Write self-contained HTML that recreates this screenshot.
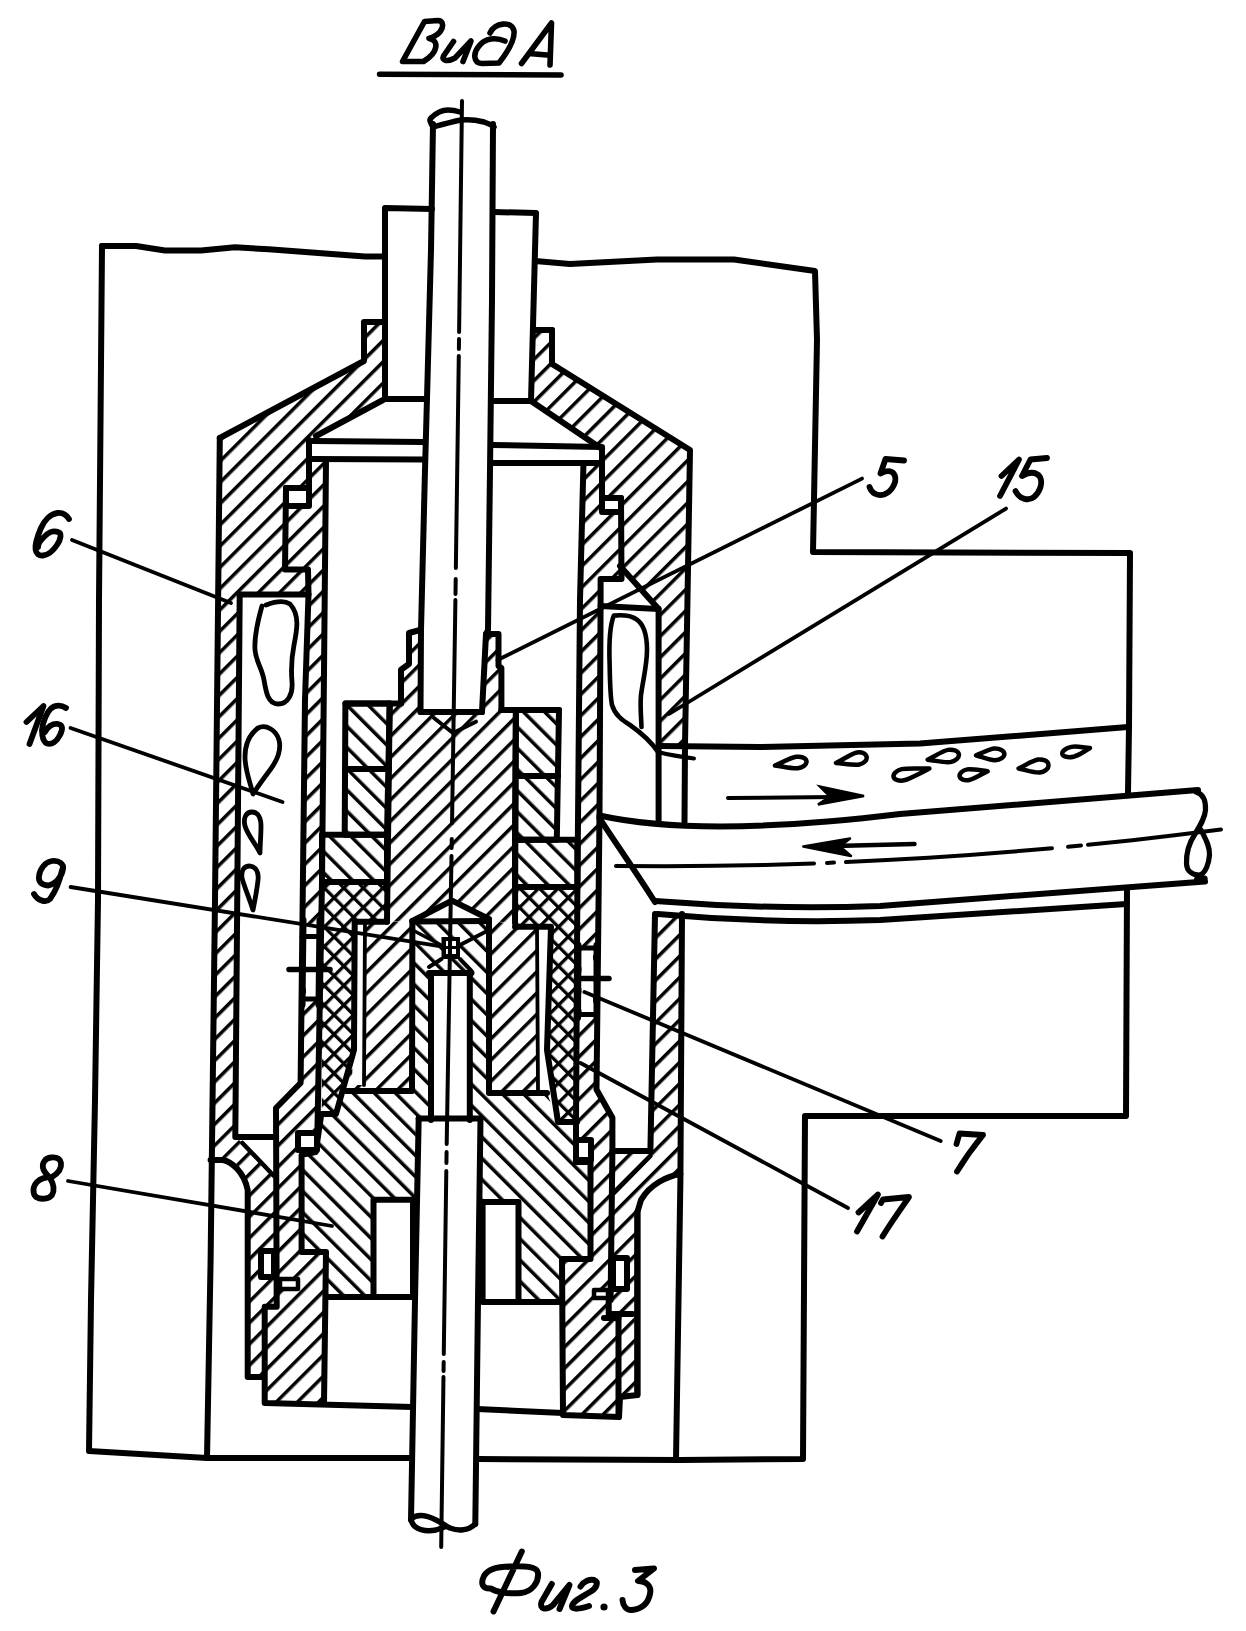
<!DOCTYPE html><html><head><meta charset="utf-8"><style>html,body{margin:0;padding:0;background:#fff;overflow:hidden;font-family:"Liberation Sans",sans-serif}svg{display:block}</style></head><body><svg width="1246" height="1631" viewBox="0 0 1246 1631" stroke-linejoin="round" stroke-linecap="round"><defs>
<pattern id="f" patternUnits="userSpaceOnUse" width="15" height="15" patternTransform="rotate(45)"><rect x="0" y="0" width="3.5" height="15" fill="#000"/></pattern>
<pattern id="b" patternUnits="userSpaceOnUse" width="15" height="15" patternTransform="rotate(-45)"><rect x="0" y="0" width="3.5" height="15" fill="#000"/></pattern>
<pattern id="x1" patternUnits="userSpaceOnUse" width="13.8" height="13.8" patternTransform="rotate(45)"><rect x="0" y="0" width="3.3" height="13.8" fill="#000"/></pattern>
<pattern id="x2" patternUnits="userSpaceOnUse" width="13.8" height="13.8" patternTransform="rotate(-45)"><rect x="0" y="0" width="3.3" height="13.8" fill="#000"/></pattern>
</defs>
<rect x="0" y="0" width="1246" height="1631" fill="#fff"/>
<polygon points="364,322 383,322 383,400 316,436 309,440 309,488 286,488 285,569.5 308,569.5 308.5,594.5 239.7,594.5 235.3,1137 210.6,1137 215,900 219.8,438 364,361" fill="#fff"/>
<polygon points="364,322 383,322 383,400 316,436 309,440 309,488 286,488 285,569.5 308,569.5 308.5,594.5 239.7,594.5 235.3,1137 210.6,1137 215,900 219.8,438 364,361" fill="url(#f)"/>
<polygon points="552,330 533,330 531,401 602,449 602,498 621,498 621.5,579 620,566 658.6,609 658.6,745 685,745 690,450 552,364" fill="#fff"/>
<polygon points="552,330 533,330 531,401 602,449 602,498 621,498 621.5,579 620,566 658.6,609 658.6,745 685,745 690,450 552,364" fill="url(#f)"/>
<polygon points="309,459 326,461 322,882 317.4,1133 301.6,1154.7 301.6,1252 326,1252 324,1403 264.7,1403 262,1377 247.7,1377 247.7,1187 238.8,1167 223,1160 210.6,1160 210.6,1137 235.3,1137 274,1137 276,1108 300.6,1083 305,700 308.5,594.5 308,569.5 285,569.5 286,506 309,506" fill="#fff"/>
<polygon points="309,459 326,461 322,882 317.4,1133 301.6,1154.7 301.6,1252 326,1252 324,1403 264.7,1403 262,1377 247.7,1377 247.7,1187 238.8,1167 223,1160 210.6,1160 210.6,1137 235.3,1137 274,1137 276,1108 300.6,1083 305,700 308.5,594.5 308,569.5 285,569.5 286,506 309,506" fill="url(#f)"/>
<polygon points="238,1139 274,1139 274,1176" fill="#fff"/>
<polygon points="242,594.5 306,594.5 301,1083 276,1108 274,1137 236,1137" fill="#fff"/>
<polygon points="583.4,466 602,463 602,498 621,498 621.5,579 600.6,579 599.5,815 596.5,1089.5 612.4,1117.7 612.4,1151 650.4,1151 655,914 682,914 680.4,1174 660,1178 645,1190 637.4,1212 637.4,1395 620,1397 619,1417 563,1415 562,1259 590.5,1259 590.5,1162 576,1162 576,1125 577.4,887 580,600" fill="#fff"/>
<polygon points="583.4,466 602,463 602,498 621,498 621.5,579 600.6,579 599.5,815 596.5,1089.5 612.4,1117.7 612.4,1151 650.4,1151 655,914 682,914 680.4,1174 660,1178 645,1190 637.4,1212 637.4,1395 620,1397 619,1417 563,1415 562,1259 590.5,1259 590.5,1162 576,1162 576,1125 577.4,887 580,600" fill="url(#f)"/>
<polygon points="600.6,606 658.6,609 658.6,745 655,914 650.4,1151 612.4,1151 612.4,1117.7 596.5,1089.5 599.5,815" fill="#fff"/>
<polygon points="620,566 658.6,609 600.6,609 600.6,579 621.5,579" fill="#fff"/>
<polygon points="412.4,921 489,921 489,1093 547,1093 558,1122 576,1122 576,1162 590.5,1162 590.5,1259 562,1259 562,1302 481.3,1302 481.3,1120 415.8,1120 415.8,1297 326,1297 326,1252 301.6,1252 301.6,1154.7 315.7,1152 321,1116 336,1114 345,1091 412,1091" fill="#fff"/>
<polygon points="412.4,921 489,921 489,1093 547,1093 558,1122 576,1122 576,1162 590.5,1162 590.5,1259 562,1259 562,1302 481.3,1302 481.3,1120 415.8,1120 415.8,1297 326,1297 326,1252 301.6,1252 301.6,1154.7 315.7,1152 321,1116 336,1114 345,1091 412,1091" fill="url(#b)"/>
<polygon points="431,973 469.8,973 469.8,1120 431,1120" fill="#fff"/>
<polygon points="389.7,703.4 401,703.4 401,669.7 409,664 409,633 420,630 420.5,712 482,712 486,634 498.5,634 498.5,666 501.4,668 501.4,710 515.9,710 515,923 489,921 452,900.6 412.4,921 387,921.8" fill="#fff"/>
<polygon points="389.7,703.4 401,703.4 401,669.7 409,664 409,633 420,630 420.5,712 482,712 486,634 498.5,634 498.5,666 501.4,668 501.4,710 515.9,710 515,923 489,921 452,900.6 412.4,921 387,921.8" fill="url(#f)"/>
<polygon points="345.4,703.4 389.7,703.4 387,834.7 344.7,834.7" fill="#fff"/>
<polygon points="345.4,703.4 389.7,703.4 387,834.7 344.7,834.7" fill="url(#b)"/>
<polygon points="515.9,710 559,710 556.8,839.7 515,839.7" fill="#fff"/>
<polygon points="515.9,710 559,710 556.8,839.7 515,839.7" fill="url(#b)"/>
<polygon points="322,834.7 387,834.7 387,882 322,882" fill="#fff"/>
<polygon points="322,834.7 387,834.7 387,882 322,882" fill="url(#b)"/>
<polygon points="515,839.7 577.4,839.7 577.4,887 515,887" fill="#fff"/>
<polygon points="515,839.7 577.4,839.7 577.4,887 515,887" fill="url(#b)"/>
<polygon points="322,882 387,882 387,921.8 354.7,921.8 354,1050 336,1114 321.8,1114" fill="#fff"/>
<polygon points="322,882 387,882 387,921.8 354.7,921.8 354,1050 336,1114 321.8,1114" fill="url(#x1)"/>
<polygon points="322,882 387,882 387,921.8 354.7,921.8 354,1050 336,1114 321.8,1114" fill="url(#x2)"/>
<polygon points="515,887 577.4,887 577.4,926.7 577,1122 558,1122 547,1050 551,926.7 515,926.7" fill="#fff"/>
<polygon points="515,887 577.4,887 577.4,926.7 577,1122 558,1122 547,1050 551,926.7 515,926.7" fill="url(#x1)"/>
<polygon points="515,887 577.4,887 577.4,926.7 577,1122 558,1122 547,1050 551,926.7 515,926.7" fill="url(#x2)"/>
<polygon points="354.7,921.8 412.4,921.5 412,1091 345,1091 354,1050" fill="#fff"/>
<polygon points="354.7,921.8 412.4,921.5 412,1091 345,1091 354,1050" fill="url(#f)"/>
<polygon points="356,922 365,922 364,1085 352,1085" fill="#fff"/>
<polygon points="489,921 541,926.7 538,1093 489,1093" fill="#fff"/>
<polygon points="489,921 541,926.7 538,1093 489,1093" fill="url(#f)"/>
<polygon points="537,927 546,927 546,1088 537,1088" fill="#fff"/>
<polygon points="373.5,1199.7 413,1199.7 413,1297 373.5,1297" fill="#fff"/>
<polygon points="482.6,1202 518.5,1202 518.5,1302 482.6,1302" fill="#fff"/>
<polyline points="102,246 136,246 165,250.5 201,250.5 235,247.3 268.7,249.3 365,256.5 385,256.5" fill="none" stroke="#000" stroke-width="6" />
<polyline points="535,261 570,264 657,259.5 734,259.5 815,271 817,340 813,552 1130,553 1129,727 1128,793" fill="none" stroke="#000" stroke-width="6" />
<polyline points="1127,888 1126,1116 805,1116 803,1459 680,1460 477,1459" fill="none" stroke="#000" stroke-width="6" />
<polyline points="409,1458 207,1458 89,1451 91,1300 95,1100 98,900 99,600 102,246" fill="none" stroke="#000" stroke-width="6" />
<polyline points="433,124 431,250 427.5,380 425,470 421,630 420.5,712" fill="none" stroke="#000" stroke-width="6" />
<polyline points="493,124 492,300 490,470 488,630 486,634 482,712" fill="none" stroke="#000" stroke-width="6" />
<path d="M433,127 C430,122 429,120 431,118 C436,113 442,110 448,110 C453,110 457,111 460,112" fill="none" stroke="#000" stroke-width="5.5" />
<path d="M433,127 C440,125 448,123 456,121 C464,119 476,120 484,122 C489,124 492,125 494,127" fill="none" stroke="#000" stroke-width="5.5" />
<polyline points="426,399 385,399 385,208 432,209" fill="none" stroke="#000" stroke-width="6" />
<polyline points="494,212 536,213 531,401 492,401" fill="none" stroke="#000" stroke-width="6" />
<polyline points="219.8,438 364,361 364,322 383,322" fill="none" stroke="#000" stroke-width="6" />
<polyline points="383,400 316,436" fill="none" stroke="#000" stroke-width="6" />
<polyline points="219.8,438 215,900 210.6,1260 207,1458" fill="none" stroke="#000" stroke-width="6" />
<polyline points="239.7,594.5 235.3,1137 274,1137" fill="none" stroke="#000" stroke-width="6" />
<polyline points="239.7,594.5 308.5,594.5" fill="none" stroke="#000" stroke-width="6" />
<polyline points="309,440 309,488 286,488 285,569.5 308,569.5 308.5,594.5 305,700 300.6,1083 276,1108 276.7,1306.7 264.7,1306.7 264.7,1403 412.7,1407" fill="none" stroke="#000" stroke-width="6" />
<polygon points="286,488 309,488 309,506 286,506" fill="#fff" stroke="#000" stroke-width="6"/>
<polyline points="312.7,441 424,442" fill="none" stroke="#000" stroke-width="6" />
<polyline points="312.7,459 424,459.5" fill="none" stroke="#000" stroke-width="6" />
<polyline points="326,461 322,882 317.4,1133" fill="none" stroke="#000" stroke-width="6" />
<polyline points="552,330 533,330" fill="none" stroke="#000" stroke-width="6" />
<polyline points="552,330 552,364 690,450 685,745 684.5,822" fill="none" stroke="#000" stroke-width="6" />
<polyline points="659,746 760,747 920,743.5 1128,727" fill="none" stroke="#000" stroke-width="6" />
<polyline points="531,401 602,449" fill="none" stroke="#000" stroke-width="6" />
<polyline points="492,445 602,447" fill="none" stroke="#000" stroke-width="6" />
<polyline points="492,463 602,463" fill="none" stroke="#000" stroke-width="6" />
<polyline points="602,449 602,498 621,498 621.5,579 600.6,579 600.6,600 599.5,815 596.5,1089.5 612.4,1117.7 612.4,1151 650.4,1151" fill="none" stroke="#000" stroke-width="6" />
<polygon points="602,498 621,498 621,512 602,512" fill="#fff" stroke="#000" stroke-width="6"/>
<polyline points="583.4,466 580,600 577.4,887 576,1125 576,1162" fill="none" stroke="#000" stroke-width="6" />
<polyline points="620,566 658.6,609 658.6,822" fill="none" stroke="#000" stroke-width="6" />
<polyline points="600.6,606 658.6,609" fill="none" stroke="#000" stroke-width="6" />
<polyline points="655,914 650.4,1151" fill="none" stroke="#000" stroke-width="6" />
<polyline points="682,914 680.4,1180 676,1460" fill="none" stroke="#000" stroke-width="6" />
<polygon points="306,924 318,924 318,1001 306,1001" fill="#fff"/>
<polyline points="302,936.5 320,936.5" fill="none" stroke="#000" stroke-width="5" />
<polyline points="289,969.5 330,969.5" fill="none" stroke="#000" stroke-width="5.5" />
<polyline points="302,999 320,999" fill="none" stroke="#000" stroke-width="5" />
<polyline points="303.5,920 302.5,1005" fill="none" stroke="#000" stroke-width="6" />
<polyline points="319.5,920 318.5,1005" fill="none" stroke="#000" stroke-width="6" />
<polygon points="581.5,948 593,948 593,1014 581.5,1014" fill="#fff"/>
<polyline points="577,948 597,948" fill="none" stroke="#000" stroke-width="5" />
<polyline points="577,978.5 609,978.5" fill="none" stroke="#000" stroke-width="5.5" />
<polyline points="577,1014.5 597,1014.5" fill="none" stroke="#000" stroke-width="5" />
<polyline points="596.5,945 596.5,1018" fill="none" stroke="#000" stroke-width="6" />
<polyline points="578.5,945 578,1018" fill="none" stroke="#000" stroke-width="6" />
<polyline points="420,630 409,633 409,664 401,669.7 401,703.4" fill="none" stroke="#000" stroke-width="6" />
<polyline points="486,634 498.5,634 498.5,666 501.4,668 501.4,710" fill="none" stroke="#000" stroke-width="6" />
<polyline points="345.4,703.4 401,703.4" fill="none" stroke="#000" stroke-width="6" />
<polyline points="501.4,710 559,710" fill="none" stroke="#000" stroke-width="6" />
<polyline points="420.5,712 482,712" fill="none" stroke="#000" stroke-width="6" />
<polyline points="434,718 453,733 476,721.7" fill="none" stroke="#000" stroke-width="4" />
<polyline points="389.7,703.4 387,921.8" fill="none" stroke="#000" stroke-width="6" />
<polyline points="515.9,710 515,923" fill="none" stroke="#000" stroke-width="6" />
<polyline points="412.4,921 452,900.6 489,919" fill="none" stroke="#000" stroke-width="6" />
<polyline points="412.4,921.5 489,921" fill="none" stroke="#000" stroke-width="6" />
<polygon points="345.4,703.4 389.7,703.4 387,834.7 344.7,834.7" fill="none" stroke="#000" stroke-width="6"/>
<polyline points="345,769 389,769" fill="none" stroke="#000" stroke-width="6" />
<polygon points="515.9,710 559,710 556.8,839.7 515,839.7" fill="none" stroke="#000" stroke-width="6"/>
<polyline points="516,776 558,776" fill="none" stroke="#000" stroke-width="6" />
<polygon points="322,834.7 387,834.7 387,882 322,882" fill="none" stroke="#000" stroke-width="6"/>
<polygon points="515,839.7 577.4,839.7 577.4,887 515,887" fill="none" stroke="#000" stroke-width="6"/>
<polyline points="387,921.8 354.7,921.8 354,1050 336,1114 321.8,1114" fill="none" stroke="#000" stroke-width="6" />
<polyline points="515,926.7 551,926.7 547,1050 558,1122 577,1122" fill="none" stroke="#000" stroke-width="6" />
<polyline points="412.4,921 412,1091 345,1091" fill="none" stroke="#000" stroke-width="6" />
<polyline points="365,922 364,1085" fill="none" stroke="#000" stroke-width="3.8" />
<polyline points="489,921 489,1093 547,1093" fill="none" stroke="#000" stroke-width="6" />
<polyline points="537,927 538,1090" fill="none" stroke="#000" stroke-width="3.8" />
<polyline points="431,973 431,1120" fill="none" stroke="#000" stroke-width="6" />
<polyline points="469.8,973 469.8,1120" fill="none" stroke="#000" stroke-width="6" />
<polyline points="429,973 471.5,973" fill="none" stroke="#000" stroke-width="6" />
<polyline points="429,967 441.5,959" fill="none" stroke="#000" stroke-width="4" />
<polyline points="471.5,971 460,959" fill="none" stroke="#000" stroke-width="4" />
<polyline points="412.4,930 441,945" fill="none" stroke="#000" stroke-width="3.5" />
<polyline points="489,930 460,945" fill="none" stroke="#000" stroke-width="3.8" />
<rect x="441.5" y="937" width="18.5" height="22" fill="#000"/>
<rect x="446" y="941" width="4" height="5" fill="#fff"/><rect x="452" y="941" width="4" height="5" fill="#fff"/><rect x="446" y="949" width="4" height="5" fill="#fff"/><rect x="452" y="949" width="4" height="5" fill="#fff"/>
<polyline points="321,1116 315.7,1152 301.6,1154.7 301.6,1252 326,1252 324,1403" fill="none" stroke="#000" stroke-width="6" />
<polyline points="326,1297 373.5,1297" fill="none" stroke="#000" stroke-width="6" />
<polygon points="373.5,1199.7 413,1199.7 413,1297 373.5,1297" fill="none" stroke="#000" stroke-width="6"/>
<polygon points="298,1133 317,1133 317,1150 298,1150" fill="#fff" stroke="#000" stroke-width="6"/>
<polygon points="261,1251 274,1251 274,1277 261,1277" fill="#fff" stroke="#000" stroke-width="6"/>
<polyline points="576,1162 590.5,1162 590.5,1259 562,1259 563,1415 619,1417 620,1397 637.4,1395 637.4,1212" fill="none" stroke="#000" stroke-width="6" />
<polyline points="518.5,1302 562,1302" fill="none" stroke="#000" stroke-width="6" />
<polygon points="482.6,1202 518.5,1202 518.5,1302 482.6,1302" fill="none" stroke="#000" stroke-width="6"/>
<polygon points="576,1140 591,1140 591,1160 576,1160" fill="#fff" stroke="#000" stroke-width="6"/>
<polygon points="613,1258 627,1258 627,1289 613,1289" fill="#fff" stroke="#000" stroke-width="6"/>
<polygon points="594,1290 608,1290 608,1298 594,1298" fill="#fff" stroke="#000" stroke-width="4.5"/>
<polygon points="280,1279 298,1279 298,1289 280,1289" fill="#fff" stroke="#000" stroke-width="4.5"/>
<polyline points="477,1409 563,1413" fill="none" stroke="#000" stroke-width="6" />
<path d="M210.6,1160 L223,1160 C232,1162 244,1172 247.7,1190 L247.7,1377 L262,1377" fill="none" stroke="#000" stroke-width="6" />
<polyline points="242.4,1143 274,1176" fill="none" stroke="#000" stroke-width="4.5" />
<path d="M680.4,1174 C668,1176 650,1184 641,1200 L637.4,1212 L637.4,1395" fill="none" stroke="#000" stroke-width="6" />
<polyline points="650.4,1156 614,1193" fill="none" stroke="#000" stroke-width="4.5" />
<polyline points="612.4,1151 610.6,1300" fill="none" stroke="#000" stroke-width="6" />
<polyline points="418.7,1118.5 415,1300 411,1520" fill="none" stroke="#000" stroke-width="6" />
<polyline points="480.5,1118.5 478,1300 475.3,1524" fill="none" stroke="#000" stroke-width="6" />
<polyline points="418.7,1118.5 480.5,1118.5" fill="none" stroke="#000" stroke-width="6" />
<polyline points="618.5,1318 618.5,1416" fill="none" stroke="#000" stroke-width="6" />
<polyline points="604,1318 618.5,1318" fill="none" stroke="#000" stroke-width="6" />
<polyline points="608.7,1300 608.7,1314 632.5,1314" fill="none" stroke="#000" stroke-width="6" />
<path d="M411,1519 C418,1513 428,1516 436,1520 C442,1523 446,1526 450,1528 C458,1531 468,1531 475.3,1524" fill="none" stroke="#000" stroke-width="5.5" />
<path d="M411.5,1521 C414,1530 426,1532 436,1530 L446,1526.5" fill="none" stroke="#000" stroke-width="5.5" />
<polyline points="462,101 459.102,332" fill="none" stroke="#000" stroke-width="4" />
<polyline points="459.014,339 458.889,349" fill="none" stroke="#000" stroke-width="4" />
<polyline points="458.801,356 455.856,568" fill="none" stroke="#000" stroke-width="4" />
<polyline points="455.702,579 455.491,594" fill="none" stroke="#000" stroke-width="4" />
<polyline points="455.406,600 452.032,823" fill="none" stroke="#000" stroke-width="4" />
<polyline points="451.776,839 451.632,848" fill="none" stroke="#000" stroke-width="4" />
<polyline points="451.504,856 446.684,1144" fill="none" stroke="#000" stroke-width="4" />
<polyline points="446.572,1152 446.418,1163" fill="none" stroke="#000" stroke-width="4" />
<polyline points="446.306,1171 443.779,1354" fill="none" stroke="#000" stroke-width="4" />
<polyline points="443.672,1362 443.551,1371" fill="none" stroke="#000" stroke-width="4" />
<polyline points="443.471,1377 441.2,1547" fill="none" stroke="#000" stroke-width="4" />
<path d="M599.5,815.5 Q700,838 900,814 L1198,790" fill="none" stroke="#000" stroke-width="6" />
<path d="M599.5,818 C610,835 628,860 655,902" fill="none" stroke="#000" stroke-width="6" />
<path d="M655,901 Q770,910 880,906 L1205,881.5" fill="none" stroke="#000" stroke-width="6" />
<path d="M657.6,914 Q770,924 880,920 L1126.7,904" fill="none" stroke="#000" stroke-width="6" />
<path d="M1196,792 C1203,794 1206,800 1205.5,810 C1205,818 1200,826 1195,834 C1189,843 1186,852 1186.5,864 C1187,871 1192,875 1199,875 C1206,874 1209,862 1209.5,855 C1210,846 1205,838 1201,830" fill="none" stroke="#000" stroke-width="5.2" />
<polyline points="1197,879.4 1204.7,878.4" fill="none" stroke="#000" stroke-width="6" />
<polyline points="616,866 665.5,866.2 715,865.8 764.5,864.9 814,863.4" fill="none" stroke="#000" stroke-width="4" />
<polyline points="827,862.9 834,862.6" fill="none" stroke="#000" stroke-width="4" />
<polyline points="846,862.1 887.2,860.1 928.4,857.8 969.6,855 1010.8,851.8 1052,848.2" fill="none" stroke="#000" stroke-width="4" />
<polyline points="1068,846.8 1081,845.5" fill="none" stroke="#000" stroke-width="4" />
<polyline points="1088,844.8 1132.3,840.2 1176.7,835.1 1221,829.5" fill="none" stroke="#000" stroke-width="4" />
<polyline points="728,798 835,797" fill="none" stroke="#000" stroke-width="4" />
<path d="M864,796 L820,786.5 L830,796.5 L818,804.5 Z" fill="#000" stroke="#000" stroke-width="2.5" stroke-linejoin="miter"/>
<polyline points="835,846 914.5,844" fill="none" stroke="#000" stroke-width="4.5" />
<path d="M803.3,846.6 L850,838.6 L840,846.5 L851,856 Z" fill="#000" stroke="#000" stroke-width="2.5"/>
<path d="M775.0,765.5 C785.3,767.0 793.0,768.9 797.8,768.2 C803.0,767.5 806.9,764.4 806.5,761.2 C806.1,758.1 801.5,756.1 796.2,756.8 C791.5,757.4 784.5,761.3 775.0,765.5 Z" fill="none" stroke="#000" stroke-width="4.5" />
<path d="M836.0,763.0 C846.5,764.0 854.9,765.4 859.2,764.5 C864.0,763.6 867.3,760.1 866.6,756.7 C865.9,753.4 861.5,751.5 856.8,752.5 C852.5,753.3 845.3,758.0 836.0,763.0 Z" fill="none" stroke="#000" stroke-width="4.5" />
<path d="M929.4,768.6 C916.9,768.5 906.4,768.0 901.7,769.1 C896.6,770.3 892.9,773.8 893.6,776.9 C894.4,780.0 899.2,781.5 904.3,780.3 C909.0,779.2 918.2,774.2 929.4,768.6 Z" fill="none" stroke="#000" stroke-width="4.5" />
<path d="M927.7,759.7 C937.8,761.1 945.1,762.9 950.1,762.1 C955.5,761.1 959.4,757.6 958.9,754.3 C958.3,751.0 953.4,749.0 947.9,749.9 C943.0,750.8 936.8,755.0 927.7,759.7 Z" fill="none" stroke="#000" stroke-width="4.5" />
<path d="M987.7,771.2 C978.5,770.1 971.7,768.6 967.3,769.4 C962.6,770.3 959.1,773.3 959.6,776.3 C960.2,779.2 964.5,780.9 969.3,780.0 C973.6,779.2 979.4,775.4 987.7,771.2 Z" fill="none" stroke="#000" stroke-width="4.5" />
<path d="M976.0,755.3 C984.6,757.8 990.3,760.4 995.1,760.2 C1000.4,759.9 1004.5,757.1 1004.4,753.9 C1004.2,750.8 999.8,748.4 994.5,748.6 C989.7,748.9 984.3,752.0 976.0,755.3 Z" fill="none" stroke="#000" stroke-width="4.5" />
<path d="M1018.6,768.5 C1028.2,770.6 1035.0,773.1 1039.8,772.5 C1045.0,771.9 1049.0,768.4 1048.5,764.8 C1048.1,761.3 1043.4,758.9 1038.2,759.5 C1033.4,760.1 1027.4,764.1 1018.6,768.5 Z" fill="none" stroke="#000" stroke-width="4.5" />
<path d="M1090.0,748.0 C1081.6,747.3 1076.5,745.8 1071.4,746.9 C1065.8,748.1 1061.8,751.3 1062.3,754.0 C1062.9,756.7 1068.0,757.9 1073.6,756.7 C1078.6,755.6 1082.7,752.2 1090.0,748.0 Z" fill="none" stroke="#000" stroke-width="4.5" />
<path d="M262,606 C258,620 254,635 255,650 C256,662 262,668 264,680 C266,692 268,704 278,704 C288,704 293,694 292,682 C291,670 291,660 294,645 C297,630 300,615 290,604 C284,600 274,602 266,605" fill="none" stroke="#000" stroke-width="4.8" />
<path d="M253,794 C250,782 245,770 245,757 C245,744 250,734 258,728 C266,724 276,730 279,740 C282,752 276,762 270,770 C264,778 258,786 253,794 Z" fill="none" stroke="#000" stroke-width="4.8" />
<path d="M260,853 C256,844 248,836 245,826 C243,818 246,812 252,812 C258,812 261,818 261,826 C261,836 260,845 260,853 Z" fill="none" stroke="#000" stroke-width="4.8" />
<path d="M253,910 C250,900 244,886 242,878 C241,870 244,866 250,866 C256,867 259,872 258,880 C257,890 255,900 253,910 Z" fill="none" stroke="#000" stroke-width="4.8" />
<path d="M641.5,727 C641,715 640,705 641,695 C643,680 647,665 647,650 C647,635 644,624 636,619 C630,615 620,615 613.8,615.6 C610,625 609,645 609.6,663 C610,680 610,695 612,705 C615,715 622,720 630,725 C640,732 650,740 658,752" fill="none" stroke="#000" stroke-width="4.6" />
<path d="M658,752 C670,755 682,757 694,758.5" fill="none" stroke="#000" stroke-width="4" />
<path d="M69,519 C66,514 62,512.5 57.5,513 C50,514 44,521 41,528 C38,535 35,544 35.5,549 C36,554 39,556 43,555.5 C48,555 53,551 57,545 C61,539 62,533 58,532 C53,530 47,533 43,538 C40,541 38,545 38,547" fill="none" stroke="#000" stroke-width="5.8" />
<polyline points="72,540 231,603" fill="none" stroke="#000" stroke-width="3.8" />
<path d="M26.5,722 L43.5,706 L29.5,744" fill="none" stroke="#000" stroke-width="5.8" />
<path d="M66,708 C63,706 58,705 54,706.5 C48,709 45,717 43,724 C41,731 42,741 47,743.5 C52,745 57,741 60,735 C63,729 63,725 58,724 C53,723 47,727 45,732" fill="none" stroke="#000" stroke-width="5.8" />
<polyline points="70.6,728 282.5,802" fill="none" stroke="#000" stroke-width="3.8" />
<path d="M48,885.5 C42,885 38,882 39,876 C40,869 45,862 52,861 C59,860 64,864 63,869 C62,876 56,884 48,885.5 M62,870 C60,880 55,892 50,899 C46,903 38,901 34,894" fill="none" stroke="#000" stroke-width="5.8" />
<polyline points="70.6,887 442.7,946.7" fill="none" stroke="#000" stroke-width="3.8" />
<path d="M52,1177 C57,1174 62,1170 61,1163 C60,1158 56,1157 51,1157.5 C45,1158 42,1163 43,1168 C44,1173 48,1175 50,1178 C53,1183 55,1190 52,1195 C49,1199 41,1200 36,1197 C32,1193 33,1186 37,1182 C41,1178 46,1177 52,1177" fill="none" stroke="#000" stroke-width="5.8" />
<polyline points="68,1181 332,1226" fill="none" stroke="#000" stroke-width="3.8" />
<path d="M904,460.5 L885.5,459 L880.5,473.5 C886,470 893,470 895,476 C897,483 891,492 884,494.5 C878,496 872,494 869.5,487" fill="none" stroke="#000" stroke-width="5.8" />
<polyline points="862,478.6 497.6,660" fill="none" stroke="#000" stroke-width="3.8" />
<path d="M1001.5,476 L1019,459.5 L1000,496" fill="none" stroke="#000" stroke-width="5.8" />
<path d="M1047,458 L1030.5,459.5 L1022,476 C1028,472 1036,471 1040,477 C1043,483 1040,492 1034,497 C1029,501 1020,500 1015.5,491" fill="none" stroke="#000" stroke-width="5.8" />
<polyline points="1006,508.6 669,714" fill="none" stroke="#000" stroke-width="3.8" />
<path d="M956.5,1144 L959.5,1133.5 L983,1135 C974,1146 964,1160 957,1171.5" fill="none" stroke="#000" stroke-width="5.8" />
<polyline points="584.4,992 940.7,1141" fill="none" stroke="#000" stroke-width="3.8" />
<path d="M858.5,1212.5 L878,1194.5 L857,1231.5" fill="none" stroke="#000" stroke-width="5.8" />
<path d="M881,1203 L883,1199.5 L909,1197 C900,1210 890,1224 882.5,1236.5" fill="none" stroke="#000" stroke-width="5.8" />
<polyline points="580.5,1063 848,1208" fill="none" stroke="#000" stroke-width="3.8" />
<path d="M402.5,61.5 L424.5,21.5 L438,20.5 C446,21 444,34 429,38.5 C439,40 439,52 423.5,61.5 Z" fill="none" stroke="#000" stroke-width="5.6" />
<path d="M453.5,41.5 L443.5,56 C441,61 448,62 455,58 L471,41 L463,61.5" fill="none" stroke="#000" stroke-width="5.6" />
<path d="M490,33 C494,23 512,20 514,31 C515,40 506,54 499,63 L482,63.5 C473,63 473,53 479,46 C485,38 496,37 505,41" fill="none" stroke="#000" stroke-width="5.6" />
<path d="M521.5,63.5 L551.5,23 L550,65 M529,53.5 L547,55" fill="none" stroke="#000" stroke-width="5.6" />
<polyline points="379.6,74.2 561,75" fill="none" stroke="#000" stroke-width="5.6" />
<path d="M521.8,1551.5 L493.5,1611.5 M491,1588.5 C483,1589 480,1584 484,1576 C488,1569 496,1567 510,1566.5 C524,1566 537,1566 538,1573 C539,1582 532,1592 521,1593 C508,1594 496,1592 491,1588.5 Z" fill="none" stroke="#000" stroke-width="6" />
<path d="M551.8,1584 L541.5,1602 C539,1609 546,1611 553,1605 L569.5,1585 L559.5,1609" fill="none" stroke="#000" stroke-width="6" />
<path d="M580.5,1586.5 C584,1581 590,1579 594,1580 C599,1582 597,1588 590,1592 C582,1597 573,1601 572,1606 C572,1610 580,1609 589,1606" fill="none" stroke="#000" stroke-width="6" />
<circle cx="604" cy="1607" r="3.6" fill="#000"/>
<path d="M635,1570 L654,1568.5 L638,1581 C646,1581 652,1586 650,1594 C648,1604 641,1609 632,1610 C626,1610.5 623,1605 622.5,1600" fill="none" stroke="#000" stroke-width="6" /></svg></body></html>
